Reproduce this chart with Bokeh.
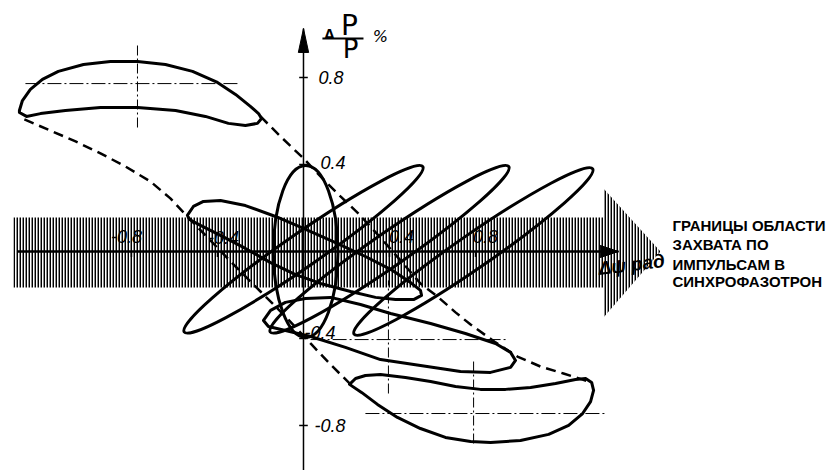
from bokeh.plotting import figure
from bokeh.models import Range1d
from bokeh.core.properties import value
from bokeh.embed import file_html
from bokeh.resources import INLINE

# ---- phase-space data: x = delta psi (rad), y = delta P / P (%) ----

# injected bunch ellipses along the phase axis (centre x, centre y, width, height, tilt)
inj_x = [0.0, 0.40, 0.79]
inj_y = [0.01, 0.01, 0.0]
inj_w = [1.35, 1.35, 1.35]
inj_h = [0.155, 0.155, 0.155]
inj_a = [0.606, 0.606, 0.606]

# matched (upright) ellipse at the origin
mat_x, mat_y, mat_w, mat_h = [0.01], [0.0], [0.30], [0.79]

# rotated bunch around the synchronous point
rot1_x = [-0.540, -0.512, -0.465, -0.386, -0.270, -0.130, 0.0, 0.149, 0.288, 0.414, 0.498, 0.544,
          0.549, 0.512, 0.428, 0.335, 0.219, 0.079, -0.037, -0.153, -0.270, -0.386, -0.479, -0.530, -0.540]
rot1_y = [0.166, 0.207, 0.230, 0.234, 0.211, 0.161, 0.106, 0.041, -0.023, -0.087, -0.143, -0.179,
          -0.202, -0.221, -0.221, -0.211, -0.184, -0.147, -0.106, -0.051, 0.014, 0.074, 0.120, 0.147, 0.166]

# rotated bunch centred near (0.4, -0.4)
rot2_x = [-0.186, -0.153, -0.084, 0.009, 0.126, 0.265, 0.405, 0.591, 0.753, 0.893, 0.963, 0.986,
          0.963, 0.870, 0.730, 0.544, 0.358, 0.195, 0.033, -0.084, -0.163, -0.186]
rot2_y = [-0.317, -0.271, -0.234, -0.216, -0.211, -0.244, -0.285, -0.331, -0.377, -0.423, -0.464, -0.501,
          -0.533, -0.556, -0.552, -0.524, -0.497, -0.441, -0.391, -0.363, -0.345, -0.317]

# crescent near the upper-left end of the separatrix
cres_ul_x = [-1.321, -1.307, -1.270, -1.214, -1.140, -1.023, -0.898, -0.772, -0.642, -0.516, -0.400,
             -0.316, -0.247, -0.209, -0.195, -0.214, -0.270, -0.349, -0.456, -0.595, -0.772, -0.944,
             -1.107, -1.223, -1.288, -1.321]
cres_ul_y = [0.648, 0.694, 0.745, 0.791, 0.828, 0.860, 0.874, 0.874, 0.860, 0.828, 0.777,
             0.722, 0.667, 0.634, 0.611, 0.589, 0.579, 0.589, 0.621, 0.648, 0.662, 0.662,
             0.648, 0.634, 0.621, 0.639]

# crescent near the lower-right end of the separatrix
cres_lr_x = [0.214, 0.242, 0.288, 0.358, 0.474, 0.591, 0.707, 0.823, 0.940, 1.056, 1.172, 1.265,
             1.312, 1.340, 1.349, 1.335, 1.298, 1.233, 1.140, 1.009, 0.870, 0.777, 0.660, 0.544,
             0.437, 0.344, 0.270, 0.214]
cres_lr_y = [-0.611, -0.584, -0.570, -0.566, -0.579, -0.598, -0.621, -0.634, -0.634, -0.625, -0.607,
             -0.589, -0.584, -0.602, -0.639, -0.690, -0.745, -0.800, -0.841, -0.869, -0.878, -0.874,
             -0.855, -0.814, -0.763, -0.703, -0.648, -0.611]

# separatrix branches (dashed)
sep_up_x = [-0.200, -0.107, 0.000, 0.088, 0.172, 0.251, 0.358, 0.451, 0.544, 0.623, 0.707, 0.777,
            0.893, 0.995, 1.102, 1.209, 1.298, 1.335]
sep_up_y = [0.621, 0.529, 0.428, 0.336, 0.253, 0.179, 0.064, -0.041, -0.147, -0.207, -0.280, -0.336,
            -0.418, -0.483, -0.529, -0.561, -0.589, -0.602]
sep_lo_x = [-1.298, -1.177, -1.060, -0.944, -0.828, -0.712, -0.619, -0.549, -0.433, -0.316, -0.200,
            -0.084, 0.033, 0.126, 0.219]
sep_lo_y = [0.607, 0.556, 0.506, 0.451, 0.391, 0.322, 0.244, 0.170, 0.051, -0.069, -0.184,
            -0.299, -0.423, -0.520, -0.611]

# centre crosses of the rotated bunches
cross_cx = [-0.772, 0.395, 0.791]
cross_cy = [0.772, -0.405, -0.745]
cross_x0 = [-1.293, 0.033, 0.288]
cross_x1 = [-0.307, 0.940, 1.405]
cross_y0 = [0.570, -0.653, -0.883]
cross_y1 = [0.955, -0.133, -0.501]

# capture band (hatched) with its arrow-shaped end
band_x = [-1.349, 1.395, 1.395, 1.660, 1.395, 1.395, -1.349]
band_y = [0.156, 0.156, 0.290, 0.0, -0.303, -0.166, -0.166]

# axes extents and ticks
x_axis_span = [-1.33, 1.465]
y_axis_span = [-1.01, 1.025]
x_ticks = [-0.8, -0.4, 0.4, 0.8]
x_tick_labels = ["-0.8", "-0.4", "0.4", "0.8"]
y_ticks = [0.8, 0.4, -0.4, -0.8]
y_tick_labels = ["0.8", "0.4", "-0.4", "-0.8"]

note_lines = ["ГРАНИЦЫ ОБЛАСТИ", "ЗАХВАТА ПО", "ИМПУЛЬСАМ В", "СИНХРОФАЗОТРОН"]

# ---------------------------------------------------------------------------
p = figure(width=835, height=470, x_range=Range1d(-1.409, 2.474), y_range=Range1d(-1.007, 1.154),
           output_backend="svg", toolbar_location=None, min_border=0,
           x_axis_location=None, y_axis_location=None)
p.outline_line_color = None
p.grid.visible = False
p.background_fill_color = "white"
p.border_fill_color = "white"

INK = "black"

# hatched capture band
p.patch(band_x, band_y, fill_color=None, line_color=None,
        hatch_pattern="|", hatch_color=INK, hatch_scale=3.0, hatch_weight=1.9)

# axes
p.line(x_axis_span, [0, 0], line_color=INK, line_width=2.5)
p.line([0, 0], y_axis_span, line_color=INK, line_width=1.5)
hx_len, hx_half = 0.085, 0.028
hy_len, hy_half = 0.11, 0.024
p.patch([x_axis_span[1] - hx_len, x_axis_span[1], x_axis_span[1] - hx_len],
        [hx_half, 0, -hx_half], fill_color=INK, line_color=INK)
p.patch([-hy_half, 0, hy_half], [y_axis_span[1] - hy_len, y_axis_span[1], y_axis_span[1] - hy_len],
        fill_color=INK, line_color=INK)

# tick marks
p.segment(x0=[-0.02] * 4, x1=[0.02] * 4, y0=y_ticks, y1=y_ticks, line_color=INK, line_width=1.5)
p.segment(x0=x_ticks, x1=x_ticks, y0=[0.0] * 4, y1=[-0.025] * 4, line_color=INK, line_width=1.5)

# centre crosses
p.segment(x0=cross_x0, x1=cross_x1, y0=cross_cy, y1=cross_cy, line_color=INK, line_width=1,
          line_dash="14 3 2 3")
p.segment(x0=cross_cx, x1=cross_cx, y0=cross_y0, y1=cross_y1, line_color=INK, line_width=1,
          line_dash="10 3 2 3")

# separatrix
p.multi_line([sep_up_x, sep_lo_x], [sep_up_y, sep_lo_y], line_color=INK, line_width=2.5,
             line_dash="10 6")

# bunch contours
p.ellipse(x=inj_x, y=inj_y, width=inj_w, height=inj_h, angle=inj_a,
          fill_color=None, line_color=INK, line_width=3)
p.ellipse(x=mat_x, y=mat_y, width=mat_w, height=mat_h,
          fill_color=None, line_color=INK, line_width=3)
p.patches([rot1_x, rot2_x, cres_ul_x, cres_lr_x], [rot1_y, rot2_y, cres_ul_y, cres_lr_y],
          fill_color=None, line_color=INK, line_width=3, line_join="round")

# tick labels
num_font = value("Liberation Sans")
p.text(x=[0.0] * 4, y=y_ticks, text=y_tick_labels, text_font=num_font, text_font_style="italic",
       text_font_size="18px", text_baseline="middle", text_align="left",
       x_offset=[15, 17, 1, 11], y_offset=[0, -2, -6, 0], text_color=INK)
p.text(x=x_ticks, y=[0.0] * 4, text=x_tick_labels, text_font=num_font, text_font_style="italic",
       text_font_size="18px", text_baseline="middle", text_align="center",
       x_offset=[-5, 6, 12, 10], y_offset=[-15, -14, -15, -15], text_color=INK)

# vertical axis title:  ΔP / P  %
title_font = value("DejaVu Sans")
p.text(x=[0.214], y=[1.039], text=["P"], text_font=title_font, text_font_size="28px",
       text_align="center", text_baseline="middle", text_color=INK)
p.text(x=[0.219], y=[0.929], text=["P"], text_font=title_font, text_font_size="26px",
       text_align="center", text_baseline="middle", text_color=INK)
p.text(x=[0.121], y=[1.002], text=["Δ"], text_font=title_font, text_font_size="12px",
       text_font_style="bold", text_align="center", text_baseline="middle", text_color=INK)
p.line([0.088, 0.279], [0.979, 0.979], line_color=INK, line_width=2)
p.text(x=[0.358], y=[0.989], text=["%"], text_font=title_font, text_font_size="16px",
       text_font_style="italic", text_align="center", text_baseline="middle", text_color=INK)

# horizontal axis title
p.text(x=[1.372], y=[-0.078], text=["Δψ рад"], text_font=num_font, text_font_size="19px",
       text_font_style="bold italic", text_align="left", text_baseline="middle", angle=0.12,
       text_color=INK)

# note on the capture band
p.text(x=[1.716] * 4, y=[0.120, 0.030, -0.058, -0.136], text=note_lines,
       text_font=value("Liberation Sans"), text_font_style="bold", text_font_size="15px",
       text_align="left", text_baseline="middle", text_color=INK)

open("out.html", "w").write(file_html(p, INLINE))
